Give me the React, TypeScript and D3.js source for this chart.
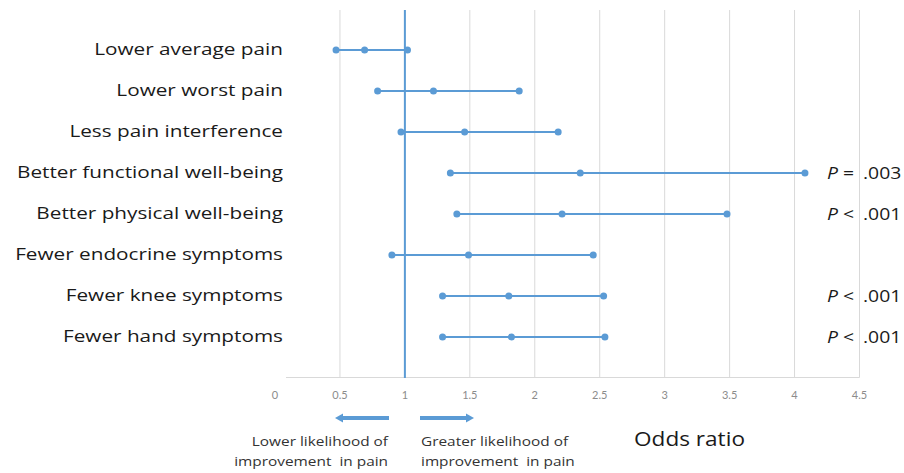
import React from "react";
import * as d3 from "d3";

const categories = [
  "Lower average pain",
  "Lower worst pain",
  "Less pain interference",
  "Better functional well-being",
  "Better physical well-being",
  "Fewer endocrine symptoms",
  "Fewer knee symptoms",
  "Fewer hand symptoms",
];
const lower = [0.47, 0.79, 0.97, 1.35, 1.4, 0.9, 1.29, 1.29];
const estimate = [0.69, 1.22, 1.46, 2.35, 2.21, 1.49, 1.8, 1.82];
const upper = [1.02, 1.88, 2.18, 4.08, 3.48, 2.45, 2.53, 2.54];
const pSign = ["", "", "", "=", "<", "", "<", "<"];
const pValue = ["", "", "", ".003", ".001", "", ".001", ".001"];
const xTicks = [0, 0.5, 1, 1.5, 2, 2.5, 3, 3.5, 4, 4.5];

const W = 904;
const H = 473;
const BLUE = "#5b9bd5";
const FONT = "'Open Sans', sans-serif";

function SText({ x, y, sx, anchor = "start", size, fill = "#1a1a1a", dy, children }: any) {
  return (
    <text
      transform={`translate(${x},${y}) scale(${sx},1)`}
      textAnchor={anchor}
      fontSize={size}
      fill={fill}
      dy={dy}
      style={{ whiteSpace: "pre" }}
    >
      {children}
    </text>
  );
}

export default function App() {
  const x = d3.scaleLinear().domain([0, 4.5]).range([275, 859.5]);
  const y = d3.scaleLinear().domain([0, 9]).range([378, 9]);
  const rowY = (i: number) => y(categories.length - i);
  const fmt = (v: number) => (v === 0 ? "0" : String(v));
  const arrowY = 418;

  return (
    <svg
      width={W}
      height={H}
      style={{ position: "absolute", left: 0, top: 0, background: "#fff" }}
      fontFamily={FONT}
    >
      {xTicks.filter((t) => t > 0).map((t) => (
        <line key={"g" + t} x1={x(t)} x2={x(t)} y1={10} y2={377.5} stroke="#d9d9d9" strokeWidth={1} />
      ))}
      <line x1={286} x2={x(4.5)} y1={377.5} y2={377.5} stroke="#d9d9d9" strokeWidth={1} />
      {xTicks.map((t) => (
        <text key={"t" + t} x={x(t)} y={399} fontSize={11} fill="#8c8c8c" textAnchor="middle" fontFamily="Lato, sans-serif">
          {fmt(t)}
        </text>
      ))}
      <line x1={x(1)} x2={x(1)} y1={10} y2={378} stroke={BLUE} strokeWidth={2} />
      {categories.map((c, i) => (
        <g key={c}>
          <line x1={x(lower[i])} x2={x(upper[i])} y1={rowY(i)} y2={rowY(i)} stroke={BLUE} strokeWidth={2} />
          {[lower[i], estimate[i], upper[i]].map((v, j) => (
            <circle key={j} cx={x(v)} cy={rowY(i)} r={3.5} fill={BLUE} />
          ))}
          <SText x={283} y={rowY(i)} sx={1.22} anchor="end" size={17} dy="0.3em">
            {c}
          </SText>
          {pValue[i] && (
            <>
              <SText x={827} y={rowY(i)} sx={1.14} size={17} dy="0.35em">
                <tspan fontStyle="italic">P</tspan>
                <tspan> {pSign[i]}</tspan>
              </SText>
              <SText x={863} y={rowY(i)} sx={1.14} size={17} dy="0.35em">
                {pValue[i]}
              </SText>
            </>
          )}
        </g>
      ))}
      <line x1={342} x2={389} y1={arrowY} y2={arrowY} stroke={BLUE} strokeWidth={4} />
      <path d={`M335,${arrowY} L343,${arrowY - 4.5} L343,${arrowY + 4.5} Z`} fill={BLUE} />
      <line x1={420} x2={467} y1={arrowY} y2={arrowY} stroke={BLUE} strokeWidth={4} />
      <path d={`M474,${arrowY} L466,${arrowY - 4.5} L466,${arrowY + 4.5} Z`} fill={BLUE} />
      <SText x={388} y={446} sx={1.14} anchor="end" size={13.5} fill="#333">Lower likelihood of</SText>
      <SText x={388} y={466} sx={1.14} anchor="end" size={13.5} fill="#333">improvement  in pain</SText>
      <SText x={421} y={446} sx={1.14} size={13.5} fill="#333">Greater likelihood of</SText>
      <SText x={421} y={466} sx={1.14} size={13.5} fill="#333">improvement  in pain</SText>
      <SText x={634} y={446} sx={1.13} size={20}>Odds ratio</SText>
    </svg>
  );
}
